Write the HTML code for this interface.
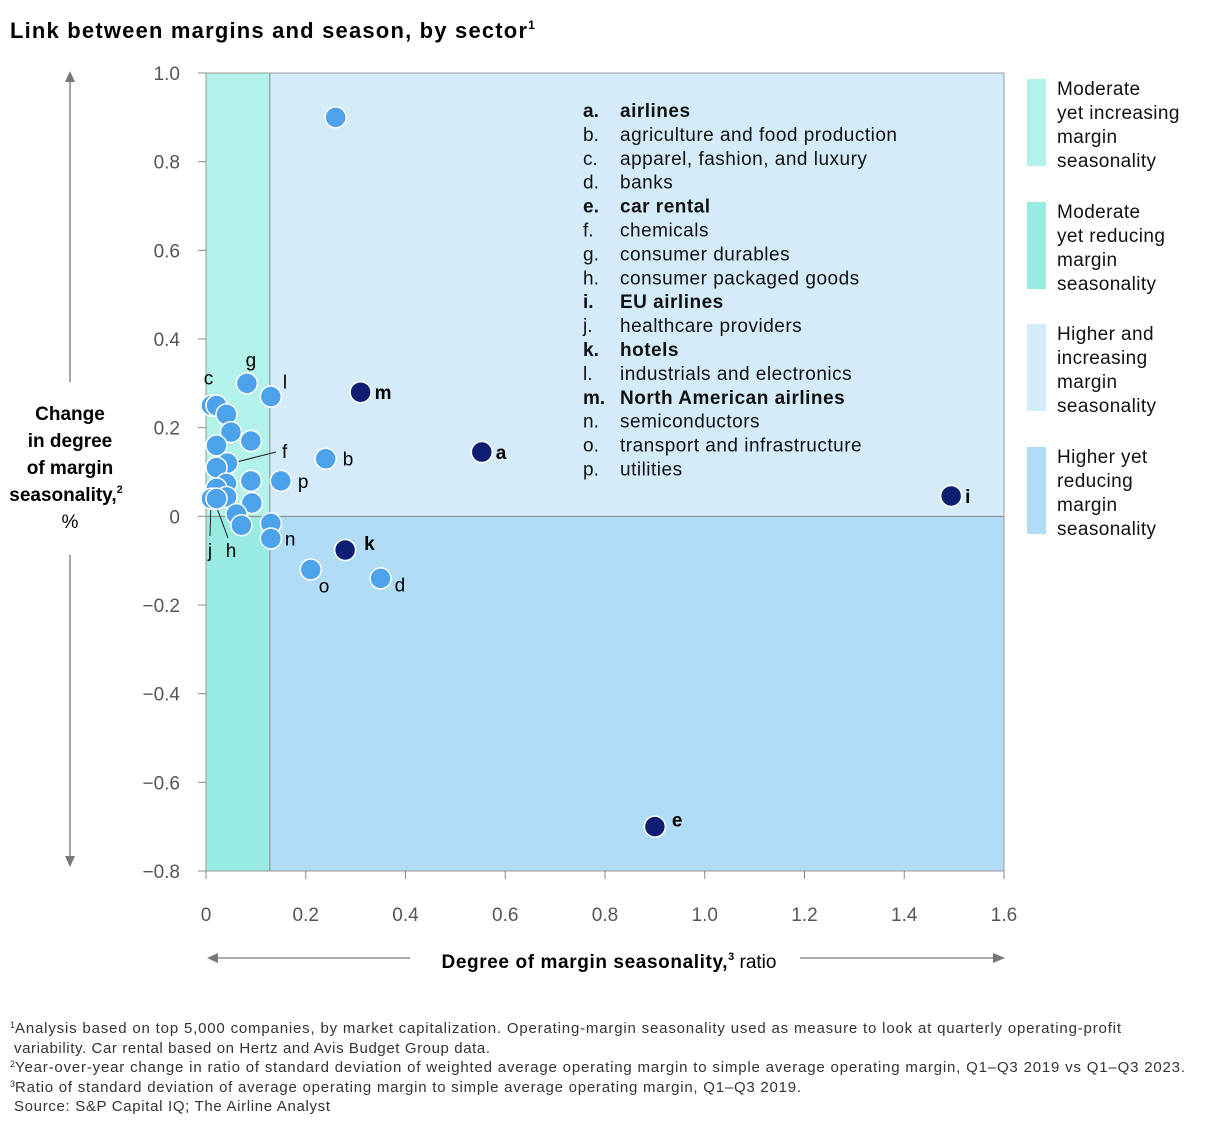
<!DOCTYPE html>
<html><head><meta charset="utf-8"><style>
body{margin:0;background:#fff;font-family:"Liberation Sans",sans-serif;color:#000}
svg{display:block}
</style></head><body>
<svg id="c" width="1212" height="1132" xmlns="http://www.w3.org/2000/svg" font-family="Liberation Sans, sans-serif">
<text x="10" y="38" font-size="22" font-weight="bold"><tspan textLength="517" lengthAdjust="spacing">Link between margins and season, by sector</tspan><tspan font-size="12" dy="-9">1</tspan></text>
<g id="plot"></g>
<g id="legend" letter-spacing="0.4">
<rect x="1027" y="79" width="19" height="87" fill="#b3f1eb"/>
<text font-size="19" fill="#111"><tspan x="1057" y="95">Moderate</tspan><tspan x="1057" y="119">yet increasing</tspan><tspan x="1057" y="143">margin</tspan><tspan x="1057" y="167">seasonality</tspan></text>
<rect x="1027" y="202" width="19" height="87" fill="#98ebe2"/>
<text font-size="19" fill="#111"><tspan x="1057" y="218">Moderate</tspan><tspan x="1057" y="242">yet reducing</tspan><tspan x="1057" y="266">margin</tspan><tspan x="1057" y="290">seasonality</tspan></text>
<rect x="1027" y="324" width="19" height="87" fill="#d4ebf9"/>
<text font-size="19" fill="#111"><tspan x="1057" y="340">Higher and</tspan><tspan x="1057" y="364">increasing</tspan><tspan x="1057" y="388">margin</tspan><tspan x="1057" y="412">seasonality</tspan></text>
<rect x="1027" y="447" width="19" height="87" fill="#b1dcf5"/>
<text font-size="19" fill="#111"><tspan x="1057" y="463">Higher yet</tspan><tspan x="1057" y="487">reducing</tspan><tspan x="1057" y="511">margin</tspan><tspan x="1057" y="535">seasonality</tspan></text>
</g>
<g font-size="15" fill="#333">
<text x="10" y="1033"><tspan font-size="9" dy="-5">1</tspan><tspan dy="5" textLength="1106" lengthAdjust="spacing">Analysis based on top 5,000 companies, by market capitalization. Operating-margin seasonality used as measure to look at quarterly operating-profit</tspan></text>
<text x="14" y="1053" textLength="476" lengthAdjust="spacing">variability. Car rental based on Hertz and Avis Budget Group data.</text>
<text x="10" y="1072"><tspan font-size="9" dy="-5">2</tspan><tspan dy="5" textLength="1170" lengthAdjust="spacing">Year-over-year change in ratio of standard deviation of weighted average operating margin to simple average operating margin, Q1–Q3 2019 vs Q1–Q3 2023.</tspan></text>
<text x="10" y="1092"><tspan font-size="9" dy="-5">3</tspan><tspan dy="5" textLength="786" lengthAdjust="spacing">Ratio of standard deviation of average operating margin to simple average operating margin, Q1–Q3 2019.</tspan></text>
<text x="14" y="1111" textLength="316" lengthAdjust="spacing">Source: S&amp;P Capital IQ; The Airline Analyst</text>
</g>
</svg>
<script>
const xTicks=[0,0.2,0.4,0.6,0.8,1.0,1.2,1.4,1.6];
const xTickLabels=["0","0.2","0.4","0.6","0.8","1.0","1.2","1.4","1.6"];
const yTicks=[1.0,0.8,0.6,0.4,0.2,0,-0.2,-0.4,-0.6,-0.8];
const yTickLabels=["1.0","0.8","0.6","0.4","0.2","0","−0.2","−0.4","−0.6","−0.8"];
const bandX=0.128;
const ptX=[0.26,0.553,1.494,0.90,0.279,0.31,0.082,0.13,0.011,0.021,0.041,0.05,0.021,0.09,0.043,0.021,0.041,0.09,0.15,0.021,0.041,0.011,0.021,0.092,0.061,0.071,0.13,0.13,0.24,0.21,0.35];
const ptY=[0.90,0.145,0.046,-0.70,-0.076,0.28,0.30,0.27,0.25,0.25,0.23,0.19,0.16,0.17,0.12,0.11,0.074,0.08,0.08,0.063,0.044,0.04,0.04,0.03,0.005,-0.02,-0.016,-0.05,0.13,-0.12,-0.14];
const ptDark=[0,1,1,1,1,1,0,0,0,0,0,0,0,0,0,0,0,0,0,0,0,0,0,0,0,0,0,0,0,0,0];
const ptLabel=["","a","i","e","k","m","g","l","c","","","","","","","","","","p","","","","","","","","","n","b","o","d"];
const legendLetters=["a.","b.","c.","d.","e.","f.","g.","h.","i.","j.","k.","l.","m.","n.","o.","p."];
const legendNames=["airlines","agriculture and food production","apparel, fashion, and luxury","banks","car rental","chemicals","consumer durables","consumer packaged goods","EU airlines","healthcare providers","hotels","industrials and electronics","North American airlines","semiconductors","transport and infrastructure","utilities"];
const legendBold=[1,0,0,0,1,0,0,0,1,0,1,0,1,0,0,0];

const X0=206,X1=1004,Y0=73,Y1=871;
const sx=v=>X0+(v-0)/(1.6-0)*(X1-X0);
const sy=v=>Y0+(1.0-v)/(1.8)*(Y1-Y0);
const NS="http://www.w3.org/2000/svg";
const g=document.getElementById('plot');
function mk(t,a,txt){const e=document.createElementNS(NS,t);for(const k in a)e.setAttribute(k,a[k]);if(txt!==undefined)e.textContent=txt;g.appendChild(e);return e;}
let e;
e=mk('rect',{x:X0,y:Y0,width:sx(bandX)-X0,height:sy(0)-Y0,fill:'#b3f1eb'});


e=mk('rect',{x:X0,y:sy(0),width:sx(bandX)-X0,height:Y1-sy(0),fill:'#98ebe2'});


e=mk('rect',{x:sx(bandX),y:Y0,width:X1-sx(bandX),height:sy(0)-Y0,fill:'#d4ebf9'});


e=mk('rect',{x:sx(bandX),y:sy(0),width:X1-sx(bandX),height:Y1-sy(0),fill:'#b1dcf5'});


e=mk('rect',{x:X0,y:Y0,width:X1-X0,height:Y1-Y0,fill:'none',stroke:'#999','stroke-width':1});


e=mk('line',{x1:sx(bandX),x2:sx(bandX),y1:Y0,y2:Y1,stroke:'#888'});


e=mk('line',{x1:X0,x2:X1,y1:sy(0),y2:sy(0),stroke:'#888'});


yTicks.forEach((v,i)=>{
 e=mk('line',{x1:X0-8,x2:X0,y1:sy(v),y2:sy(v),stroke:'#888'});
 
 
 e=mk('text',{x:X0-26,y:sy(v)+7,'font-size':19,fill:'#555','text-anchor':'end'},yTickLabels[i]);
 
 
});
xTicks.forEach((v,i)=>{
 e=mk('line',{x1:sx(v),x2:sx(v),y1:Y1,y2:Y1+8,stroke:'#888'});
 
 
 e=mk('text',{x:sx(v),y:921,'font-size':19,fill:'#555','text-anchor':'middle'},xTickLabels[i]);
 
 
});
e=mk('path',{d:'M70,80 V382 M70,555 V858',stroke:'#777',fill:'none','stroke-width':1.3});


e=mk('path',{d:'M65,82 L70,71 L75,82 Z M65,856 L70,867 L75,856 Z M218,953 L207,958 L218,963 Z M993,953 L1005,958 L993,963 Z',fill:'#777'});


e=mk('path',{d:'M212,958 H410 M800,958 H998',stroke:'#777',fill:'none','stroke-width':1.3});


e=mk('text',{x:609,y:968,'font-size':19,'text-anchor':'middle'});
e.innerHTML='<tspan font-weight="bold" textLength="286" lengthAdjust="spacing">Degree of margin seasonality,</tspan><tspan font-weight="bold" font-size="11" dy="-8">3</tspan><tspan dy="8"> ratio</tspan>';


e=mk('text',{x:70,'font-size':19,'text-anchor':'middle','font-weight':'bold'});
e.innerHTML='<tspan x="70" y="420">Change</tspan><tspan x="70" y="447">in degree</tspan><tspan x="70" y="474">of margin</tspan><tspan x="66" y="501">seasonality,<tspan font-size="11" dy="-8">2</tspan></tspan><tspan x="70" y="528" font-weight="normal">%</tspan>';


e=mk('path',{d:'M216.7,467 L276,452 M211,501 L210,536 M214,500 L228,538',stroke:'#222','stroke-width':1,fill:'none'});


ptX.forEach((v,i)=>{
 e=mk('circle',{cx:sx(v),cy:sy(ptY[i]),r:10.5,fill:ptDark[i]?'#0e1f73':'#4da3eb',stroke:'#fff','stroke-width':1.5});
 
 
});
const lblOff={a:[14,7,1],i:[14,7,1],e:[17,0,1],k:[19,0,1],m:[14,7,1],g:[4,-17,0],l:[12,-8,0],c:[-3,-21,0],p:[17,7,0],n:[14,7,0],b:[17,7,0],o:[8,23,0],d:[14,13,0]};
ptX.forEach((v,i)=>{
 const L=ptLabel[i];if(!L)return;const o=lblOff[L];
 e=mk('text',{x:sx(v)+o[0],y:sy(ptY[i])+o[1],'font-size':19,'font-weight':o[2]?'bold':'normal','text-anchor':L==='g'||L==='c'?'middle':'start'},L);
 
 
});
[['f',282,458],['j',210,557],['h',231,557]].forEach(t=>{
 e=mk('text',{x:t[1],y:t[2],'font-size':19,'text-anchor':t[0]==='f'?'start':'middle'},t[0]);
 
 
});
legendLetters.forEach((l,i)=>{
 const y=117+i*23.9;
 e=mk('text',{x:583,y:y,'font-size':19,'font-weight':legendBold[i]?'bold':'normal',fill:'#111'},l);
 
 
 e=mk('text',{x:620,y:y,'font-size':19,'font-weight':legendBold[i]?'bold':'normal',fill:'#111','letter-spacing':0.5},legendNames[i]);
 
 
});
</script>
</body></html>
